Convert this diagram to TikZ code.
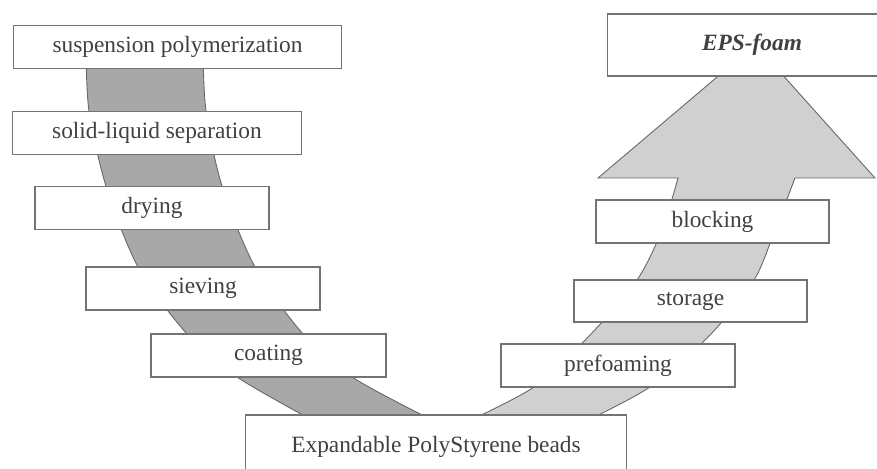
\documentclass[tikz,border=0pt]{standalone}
\usepackage{fontspec}
\setmainfont{Liberation Serif}
\definecolor{bandleft}{RGB}{168,168,168}
\definecolor{bandright}{RGB}{208,208,208}
\definecolor{inkgray}{RGB}{65,65,65}
\tikzset{
  stepbox/.style={draw=gray!90!black, line width=0.6pt, fill=white, inner sep=0pt,
    minimum height=0.86cm, text=inkgray, font=\fontsize{13.3}{15}\selectfont},
  band/.style={draw=gray!80!black, line width=0.5pt}
}
\begin{document}
\begin{tikzpicture}[x=0.02cm, y=-0.02cm]
  \useasboundingbox (0,0) rectangle (877,469);

  % production band (left)
  \draw[band, fill=bandleft] plot[smooth] coordinates {(86,50) (89,111) (106,186) (138,267) (187,334) (237,377) (312,420)}
    -- plot[smooth] coordinates {(432,420) (352,377) (303,334) (255,267) (222,186) (206,111) (203,50)} -- cycle;

  % processing band (right) with arrow head
  \draw[band, fill=bandright] plot[smooth] coordinates {(460,425) (534,387) (590,335) (637,280) (662,230) (678,178)}
    -- (598,178) -- (723,72) -- (780,72) -- (875,178)
    -- plot[smooth] coordinates {(795,178) (775,230) (754,280) (710,335) (650,387) (578,425)} -- cycle;

  \node[stepbox, minimum width=6.58cm] (polym) at (177.5,47) {suspension polymerization};
  \node[stepbox, minimum width=5.8cm] (separ) at (157,133) {solid-liquid separation};
  \node[stepbox, minimum width=4.68cm] (dry) at (152,208) {drying};
  \node[stepbox, minimum width=4.68cm] (sieve) at (203,288.5) {sieving};
  \node[stepbox, minimum width=4.7cm] (coat) at (268.5,355.5) {coating};
  \node[stepbox, minimum width=7.64cm, minimum height=1.28cm] (beads) at (436,447) {Expandable PolyStyrene beads};

  \node[stepbox, minimum width=4.68cm] (prefoam) at (618,365.5) {prefoaming};
  \node[stepbox, minimum width=4.66cm, minimum height=0.84cm] (store) at (690.5,301) {storage};
  \node[stepbox, minimum width=4.66cm] (block) at (712.5,221.5) {blocking};
  \node[stepbox, minimum width=5.8cm, minimum height=1.24cm] (foam) at (752,45) {\textbf{\textit{EPS-foam}}};
\end{tikzpicture}
\end{document}
